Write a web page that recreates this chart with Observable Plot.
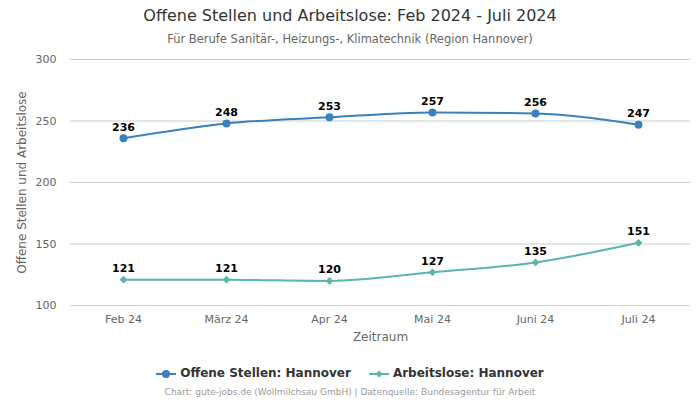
<!DOCTYPE html>
<html><head><meta charset="utf-8">
<script src="https://cdn.jsdelivr.net/npm/d3@7"></script>
<script src="https://cdn.jsdelivr.net/npm/@observablehq/plot@0.6"></script>
<style>
body{margin:0;width:700px;height:400px;background:#fff;font-family:"DejaVu Sans",sans-serif;overflow:hidden}
#title{position:absolute;top:6px;left:0;width:700px;text-align:center;font-size:16px;color:#333}
#sub{position:absolute;top:32px;left:0;width:700px;text-align:center;font-size:11.5px;color:#666}
#chart{position:absolute;top:50px;left:0}
#legend{position:absolute;top:366px;left:0;width:700px;text-align:center;font-size:12px;font-weight:bold;color:#333}
#legend span.item{display:inline-block;margin:0 9px}
#legend svg{vertical-align:middle;margin-right:4px}
#cap{position:absolute;top:387px;left:0;width:700px;text-align:center;font-size:9px;color:#999}
</style></head><body>
<div id="title">Offene Stellen und Arbeitslose: Feb 2024 - Juli 2024</div>
<div id="sub">Für Berufe Sanitär-, Heizungs-, Klimatechnik (Region Hannover)</div>
<div id="chart"></div>
<div id="legend"></div>
<div id="cap">Chart: gute-jobs.de (Wollmilchsau GmbH) | Datenquelle: Bundesagentur für Arbeit</div>
<script>
const months = ["Feb 24","März 24","Apr 24","Mai 24","Juni 24","Juli 24"];
const offeneStellen = [236,248,253,257,256,247];
const arbeitslose = [121,121,120,127,135,151];
const seriesNames = ["Offene Stellen: Hannover","Arbeitslose: Hannover"];
const colors = ["#3a80bd","#5ab5ad"];
const yTicks = [100,150,200,250,300];

const dataA = months.map((m,i)=>({m,v:offeneStellen[i]}));
const dataB = months.map((m,i)=>({m,v:arbeitslose[i]}));

const plot = Plot.plot({
  width:700, height:300,
  marginTop:9, marginBottom:45, marginLeft:70, marginRight:10,
  style:{fontFamily:"DejaVu Sans, sans-serif", fontSize:"11px", color:"#666"},
  x:{type:"point", domain:months, padding:0.5, label:null},
  y:{domain:[100,300], label:null},
  marks:[
    Plot.gridY(yTicks,{stroke:"#ccc", strokeOpacity:1}),
    Plot.ruleY([100],{stroke:"#c8d3e0"}),
    Plot.axisY(yTicks,{tickSize:0, tickPadding:14, fill:"#666", fontSize:11, label:null}),
    Plot.axisX(months,{tickSize:0, tickPadding:10, fill:"#666", fontSize:11, label:null}),
    Plot.text(["Zeitraum"],{frameAnchor:"bottom", dy:35, fill:"#666", fontSize:12, textAnchor:"middle"}),
    Plot.text(["Offene Stellen und Arbeitslose"],{frameAnchor:"left", dx:-48, rotate:-90, textAnchor:"middle", fill:"#666", fontSize:12}),
    Plot.line(dataA,{x:"m",y:"v",stroke:colors[0],strokeWidth:2,curve:"monotone-x"}),
    Plot.line(dataB,{x:"m",y:"v",stroke:colors[1],strokeWidth:2,curve:"monotone-x"}),
    Plot.dot(dataA,{x:"m",y:"v",fill:colors[0],r:4,symbol:"circle"}),
    Plot.dot(dataB,{x:"m",y:"v",fill:colors[1],r:3.5,symbol:"diamond2"}),
    Plot.text(dataA,{x:"m",y:"v",text:d=>String(d.v),dy:-11,fill:"#000",fontWeight:"bold",fontSize:11}),
    Plot.text(dataB,{x:"m",y:"v",text:d=>String(d.v),dy:-11,fill:"#000",fontWeight:"bold",fontSize:11})
  ]
});
document.getElementById("chart").appendChild(plot);

const leg = document.getElementById("legend");
const symA = `<svg width="20" height="10"><line x1="0" y1="5" x2="20" y2="5" stroke="${colors[0]}" stroke-width="2"/><circle cx="10" cy="5" r="4" fill="${colors[0]}"/></svg>`;
const symB = `<svg width="20" height="10"><line x1="0" y1="5" x2="20" y2="5" stroke="${colors[1]}" stroke-width="2"/><path d="M10,1.5L13.5,5L10,8.5L6.5,5Z" fill="${colors[1]}"/></svg>`;
leg.innerHTML = `<span class="item">${symA}${seriesNames[0]}</span><span class="item">${symB}${seriesNames[1]}</span>`;
</script>
</body></html>
